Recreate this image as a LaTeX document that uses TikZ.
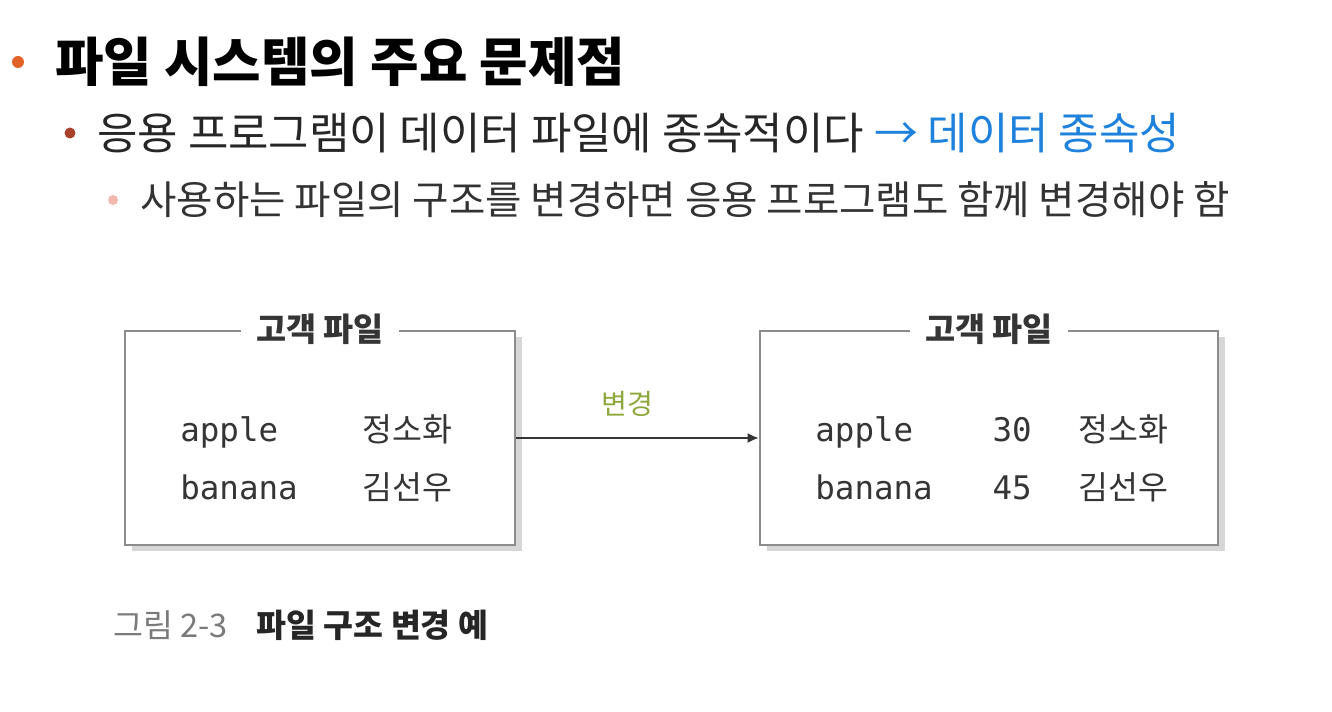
\documentclass[tikz,border=0pt]{standalone}
\usepackage{fontspec}
\setmainfont{Noto Sans CJK KR}
\setmonofont{DejaVu Sans Mono}
\usetikzlibrary{shapes.geometric, arrows.meta, positioning, shadows}
\definecolor{dotorange}{HTML}{E2622A}
\definecolor{dotred}{HTML}{A8402A}
\definecolor{dotpink}{HTML}{F2B8B0}
\definecolor{linkblue}{HTML}{1E82DC}
\definecolor{boxgray}{HTML}{8C8C8C}
\definecolor{shadowgray}{HTML}{D6D6D6}
\definecolor{datagray}{HTML}{353535}
\definecolor{notegreen}{HTML}{8FA83E}
\definecolor{capgray}{HTML}{7A7A7A}
\tikzstyle{dot} = [circle, inner sep=0, minimum size=0.22cm]
\tikzstyle{heading} = [anchor=west, inner sep=0]
\tikzstyle{filebox} = [rectangle, minimum width=7.8cm, minimum height=4.28cm, draw=boxgray, line width=1.5pt, fill=white, drop shadow={shadow xshift=0.13cm, shadow yshift=-0.13cm, fill=shadowgray, opacity=1}]
\tikzstyle{boxtitle} = [fill=white, inner xsep=0.3cm, inner ysep=0.05cm, font=\fontsize{18.6}{22}\selectfont\bfseries, text=datagray]
\tikzstyle{record} = [anchor=base west, inner sep=0, font=\ttfamily\fontsize{18.5}{22}\selectfont, text=datagray]
\tikzstyle{person} = [anchor=base west, inner sep=0, font=\fontsize{18.5}{22}\selectfont, text=datagray]
\tikzstyle{arrow} = [-{Latex[length=0.22cm, width=0.2cm]}, line width=0.9pt, draw=datagray]

\begin{document}
\begin{tikzpicture}[node distance=2cm]
    \useasboundingbox (0,0) rectangle (26.64,-14.24);

    \node (dot_title) [dot, fill=dotorange, minimum size=0.24cm] at (0.36,-1.24) {};
    \node (title) [heading, font=\fontsize{30}{36}\selectfont\bfseries] at (1.1,-1.24) {파일 시스템의 주요 문제점};
    \node (dot_dep) [dot, fill=dotred] at (1.4,-2.66) {};
    \node (dependency) [heading, font=\fontsize{25}{30}\selectfont, text=black!85] at (1.94,-2.66) {응용 프로그램이 데이터 파일에 종속적이다 \textcolor{linkblue}{→ 데이터 종속성}};
    \node (dot_change) [dot, fill=dotpink, minimum size=0.2cm] at (2.26,-4.0) {};
    \node (change) [heading, font=\fontsize{22.5}{27}\selectfont, text=black!80] at (2.8,-4.0) {사용하는 파일의 구조를 변경하면 응용 프로그램도 함께 변경해야 함};

    \node (old_file) [filebox] at (6.4,-8.76) {};
    \node (new_file) [filebox, minimum width=9.16cm] at (19.78,-8.76) {};
    \node (old_title) [boxtitle] at (old_file.north) {고객 파일};
    \node (new_title) [boxtitle] at (new_file.north) {고객 파일};

    \node (old_apple) [record] at (3.6,-8.84) {apple};
    \node (old_banana) [record] at (3.6,-10.0) {banana};
    \node (old_jung) [person] at (7.24,-8.84) {정소화};
    \node (old_kim) [person] at (7.24,-10.0) {김선우};

    \node (new_apple) [record] at (16.3,-8.84) {apple};
    \node (new_banana) [record] at (16.3,-10.0) {banana};
    \node (new_age1) [record, anchor=base east] at (20.64,-8.84) {30};
    \node (new_age2) [record, anchor=base east] at (20.64,-10.0) {45};
    \node (new_jung) [person] at (21.56,-8.84) {정소화};
    \node (new_kim) [person] at (21.56,-10.0) {김선우};

    \node (fig_num) [heading, font=\fontsize{18.5}{22}\selectfont, text=capgray] at (2.26,-12.5) {그림 2-3};
    \node (fig_text) [heading, right=0.56cm of fig_num, font=\fontsize{18.5}{22}\selectfont\bfseries, text=black!85] {파일 구조 변경 예};

    \draw [arrow] (old_file.east) -- node[above=0.3cm, xshift=-0.2cm, text=notegreen, font=\fontsize{16}{19}\selectfont] {변경} (new_file.west);
\end{tikzpicture}
\end{document}
